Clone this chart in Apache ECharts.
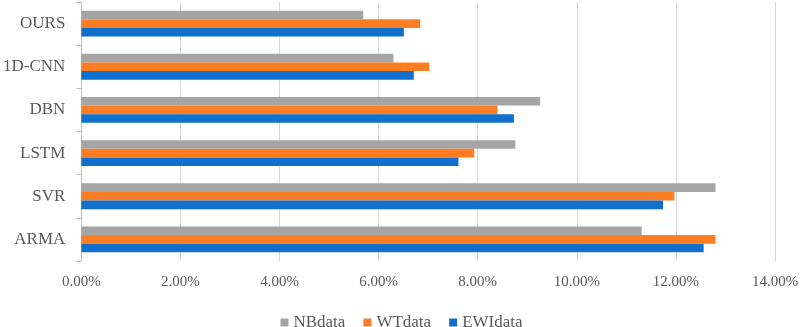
<!DOCTYPE html>
<html>
<head>
<meta charset="utf-8">
<script src="https://cdn.jsdelivr.net/npm/echarts@6/dist/echarts.min.js"></script>
<style>
    html, body { margin: 0; padding: 0; background: #fff; }
    #main { width: 803px; height: 327px; }
</style>
</head>
<body>
<div id="main"></div>
<script>
// categories bottom to top
var categories = ['ARMA', 'SVR', 'LSTM', 'DBN', '1D-CNN', 'OURS'];
var nbData  = [11.31, 12.80, 8.76, 9.26, 6.30, 5.69];
var wtData  = [12.80, 11.97, 7.93, 8.40, 7.02, 6.84];
var ewiData = [12.56, 11.74, 7.61, 8.73, 6.71, 6.51];

var colors = ['#A5A5A5', '#FF7D22', '#1170CC'];
var fontFam = '"Liberation Serif", "DejaVu Serif", serif';

var myChart = echarts.init(document.getElementById('main'));

var option = {
    color: colors,
    animation: false,
    grid: {
        left: 79,
        right: 28,
        top: 2,
        bottom: 66,
        containLabel: false
    },
    legend: {
        data: ['NBdata', 'WTdata', 'EWIdata'],
        top: 309,
        left: 'center',
        itemWidth: 8,
        itemHeight: 8,
        itemGap: 18,
        icon: 'rect',
        textStyle: {
            fontFamily: fontFam,
            fontSize: 17,
            color: '#595959'
        }
    },
    xAxis: {
        type: 'value',
        min: 0,
        max: 14,
        interval: 2,
        axisLine: { show: false },
        axisTick: { show: false },
        splitLine: { lineStyle: { color: '#D9D9D9', width: 1 } },
        axisLabel: {
            margin: 14,
            fontFamily: fontFam,
            fontSize: 15,
            color: '#595959',
            formatter: function (v) { return v.toFixed(2) + '%'; }
        }
    },
    yAxis: {
        type: 'category',
        data: categories,
        axisLine: { show: true, lineStyle: { color: '#BFBFBF' } },
        axisTick: { show: true, length: 5, lineStyle: { color: '#BFBFBF' } },
        axisLabel: {
            margin: 16,
            fontFamily: fontFam,
            fontSize: 17,
            color: '#595959'
        }
    },
    series: [
        {
            name: 'NBdata',
            type: 'bar',
            data: nbData,
            barGap: '0%',
            barCategoryGap: '40%'
        },
        {
            name: 'WTdata',
            type: 'bar',
            data: wtData
        },
        {
            name: 'EWIdata',
            type: 'bar',
            data: ewiData
        }
    ]
};

option && myChart.setOption(option);
window.onresize = myChart.resize;
</script>
</body>
</html>
